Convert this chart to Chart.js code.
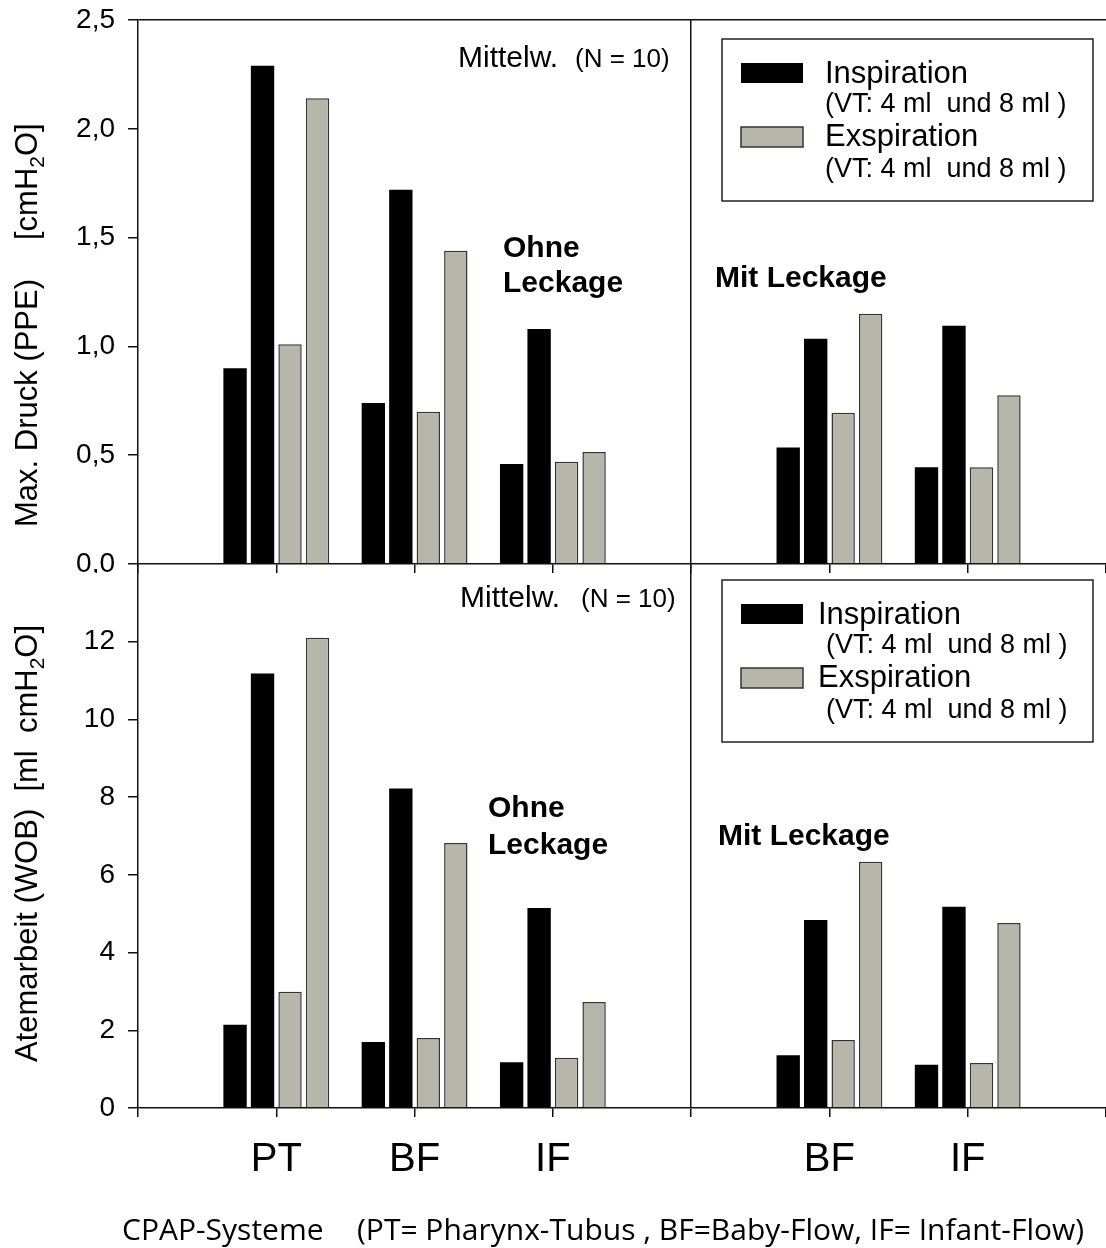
<!DOCTYPE html>
<html>
<head>
<meta charset="utf-8">
<script src="https://cdn.jsdelivr.net/npm/chart.js@4.4.1/dist/chart.umd.min.js"></script>
<style>
html, body { margin: 0; padding: 0; background: #fff; overflow: hidden; }
#wrap { position: relative; width: 1106px; height: 1248px; }
canvas { position: absolute; left: 0; }
#cTop { top: 0; }
#cBot { top: 544px; }
</style>
</head>
<body>
<div id="wrap">
  <canvas id="cTop" width="1106" height="573"></canvas>
  <canvas id="cBot" width="1106" height="704"></canvas>
</div>
<script>
// Kategorien (leere Slots = Rand / Trennung ohne/mit Leckage)
const categories = ['', 'PT', 'BF', 'IF', '', 'BF', 'IF', ''];

// Max. Druck (PPE) [cmH2O]
const ppeInsp4 = [null, 0.90, 0.74, 0.46, null, 0.535, 0.445, null];
const ppeInsp8 = [null, 2.29, 1.72, 1.08, null, 1.035, 1.095, null];
const ppeExsp4 = [null, 1.01, 0.70, 0.47, null, 0.695, 0.445, null];
const ppeExsp8 = [null, 2.14, 1.44, 0.515, null, 1.15, 0.775, null];

// Atemarbeit (WOB) [ml cmH2O]
const wobInsp4 = [null, 2.14, 1.70, 1.18, null, 1.36, 1.11, null];
const wobInsp8 = [null, 11.18, 8.22, 5.15, null, 4.84, 5.18, null];
const wobExsp4 = [null, 2.99, 1.80, 1.29, null, 1.75, 1.16, null];
const wobExsp8 = [null, 12.10, 6.82, 2.73, null, 6.34, 4.76, null];

const ppeTicks = [0, 0.5, 1.0, 1.5, 2.0, 2.5];
const wobTicks = [0, 2, 4, 6, 8, 10, 12];

const BLACK = '#000000', GREY = '#b6b7aa', LINE = '#111111';
const SANS = '"Liberation Sans", Arial, sans-serif';

Chart.defaults.font.family = SANS;
Chart.defaults.color = '#000';
Chart.defaults.animation = false;

function ds(data, grey, stack) {
    return { data: data, stack: stack, backgroundColor: grey ? GREY : BLACK, borderColor: grey ? '#333' : BLACK,
             borderWidth: grey ? 1.5 : 0, categoryPercentage: 0.795, barPercentage: 0.85 };
}

function txt(ctx, s, x, y, size, bold, family) {
    ctx.font = (bold ? 'bold ' : '') + size + 'px ' + (family || SANS);
    ctx.fillStyle = '#000'; ctx.textAlign = 'left'; ctx.textBaseline = 'alphabetic';
    ctx.fillText(s, x, y);
}

// senkrechter Achsentitel mit Index-2
function vTitle(ctx, parts, x, y) {
    ctx.save(); ctx.translate(x, y); ctx.rotate(-Math.PI / 2);
    ctx.fillStyle = '#000'; ctx.textAlign = 'left'; ctx.textBaseline = 'alphabetic';
    let cx = 0;
    parts.forEach(p => {
        ctx.font = (p.sub ? '21px ' : '31px ') + SANS;
        ctx.fillText(p.t, cx, p.sub ? 7 : 0);
        cx += ctx.measureText(p.t).width;
    });
    ctx.restore();
}

function legendBox(ctx, top, insX, vtX) {
    ctx.save();
    ctx.strokeStyle = '#222'; ctx.lineWidth = 1.5;
    ctx.strokeRect(722, top, 371, 162);
    ctx.fillStyle = BLACK; ctx.fillRect(741, top + 24, 62, 20);
    ctx.fillStyle = GREY; ctx.fillRect(741, top + 88, 62, 20);
    ctx.strokeStyle = '#333'; ctx.strokeRect(741, top + 88, 62, 20);
    ctx.restore();
    txt(ctx, 'Inspiration', insX, top + 44, 31);
    txt(ctx, '(VT: 4 ml  und 8 ml )', vtX, top + 73, 27);
    txt(ctx, 'Exspiration', insX, top + 107, 31);
    txt(ctx, '(VT: 4 ml  und 8 ml )', vtX, top + 138, 27);
}

function makeChart(id, datasets, yMax, yTicks, fmt, xLabels, annotate) {
    return new Chart(document.getElementById(id), {
        type: 'bar',
        data: { labels: categories, datasets: datasets },
        options: {
            responsive: false,
            layout: { padding: { top: 20, right: 0, bottom: 0, left: 0 } },
            plugins: { legend: { display: false }, tooltip: { enabled: false } },
            scales: {
                x: {
                    offset: false,
                    grid: { offset: false, color: c => c.index === 4 ? LINE : 'rgba(0,0,0,0)', tickColor: LINE, lineWidth: 1.5, tickLength: 9 },
                    border: { display: true, color: LINE, width: 1.5 },
                    ticks: { display: xLabels, autoSkip: false, maxRotation: 0, padding: 19, font: { size: 40 } },
                    afterFit: s => { s.height = xLabels ? 140 : 9; s.paddingLeft = 0; s.paddingRight = 0; }
                },
                y: {
                    min: 0, max: yMax,
                    afterBuildTicks: s => { s.ticks = yTicks.map(v => ({ value: v })); },
                    grid: { color: c => c.tick && c.tick.value === yMax ? LINE : 'rgba(0,0,0,0)', tickColor: LINE, lineWidth: 1.5, tickLength: 10 },
                    border: { display: true, color: LINE, width: 1.5 },
                    ticks: { padding: 13, font: { size: 28 }, callback: fmt },
                    afterFit: s => { s.width = 138; s.paddingTop = 0; s.paddingBottom = 0; }
                }
            }
        },
        plugins: [{ id: 'notes', afterDraw: ch => annotate(ch.ctx) }]
    });
}

// oben: Max. Druck
makeChart('cTop', [
    ds(ppeInsp4, false, 'a'), ds(ppeInsp8, false, 'b'), ds(ppeExsp4, true, 'c'), ds(ppeExsp8, true, 'd')
], 2.5, ppeTicks, v => v.toFixed(1).replace('.', ','), false, ctx => {
    vTitle(ctx, [{ t: 'Max. Druck (PPE)' }], 37, 527);
    vTitle(ctx, [{ t: '[cmH' }, { t: '2', sub: true }, { t: 'O]' }], 37, 240);
    txt(ctx, 'Mittelw.', 458, 67, 30);
    txt(ctx, '(N = 10)', 575, 67, 26);
    txt(ctx, 'Ohne', 503, 257, 30, true);
    txt(ctx, 'Leckage', 503, 292, 30, true);
    txt(ctx, 'Mit Leckage', 715, 287, 30, true);
    legendBox(ctx, 39, 825, 825);
});

// unten: Atemarbeit (Offset der Leinwand: 544 px)
makeChart('cBot', [
    ds(wobInsp4, false, 'a'), ds(wobInsp8, false, 'b'), ds(wobExsp4, true, 'c'), ds(wobExsp8, true, 'd')
], 14, wobTicks, v => String(v), true, ctx => {
    const o = 544;
    vTitle(ctx, [{ t: 'Atemarbeit (WOB)  [ml  cmH' }, { t: '2', sub: true }, { t: 'O]' }], 37, 1062 - o);
    txt(ctx, 'Mittelw.', 460, 607 - o, 30);
    txt(ctx, '(N = 10)', 581, 607 - o, 26);
    txt(ctx, 'Ohne', 488, 817 - o, 30, true);
    txt(ctx, 'Leckage', 488, 854 - o, 30, true);
    txt(ctx, 'Mit Leckage', 718, 845 - o, 30, true);
    legendBox(ctx, 580 - o, 818, 826);
    txt(ctx, 'CPAP-Systeme', 122, 1240 - o, 30, false, '"Open Sans", sans-serif');
    txt(ctx, '(PT= Pharynx-Tubus , BF=Baby-Flow, IF= Infant-Flow)', 357, 1240 - o, 30, false, '"Open Sans", sans-serif');
});
</script>
</body>
</html>
